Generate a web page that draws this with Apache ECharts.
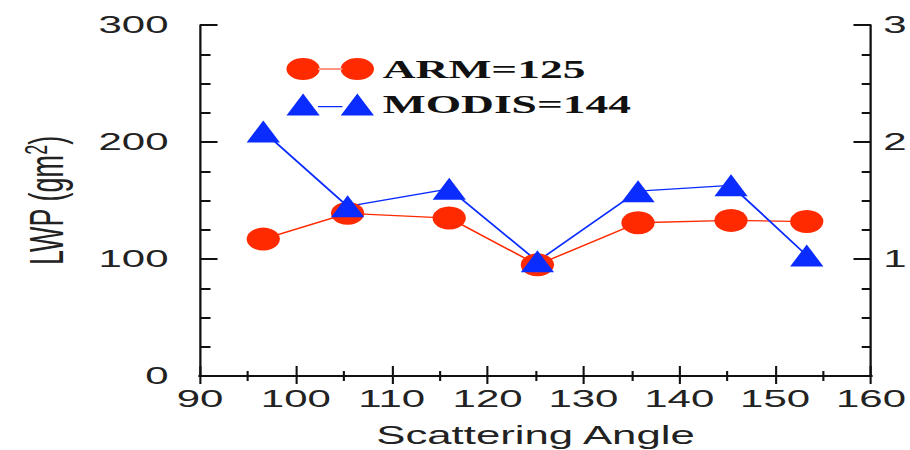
<!DOCTYPE html>
<html>
<head>
<meta charset="utf-8">
<script src="https://cdn.jsdelivr.net/npm/echarts@6/dist/echarts.min.js"></script>
<style>
  html, body { margin: 0; padding: 0; background: #fff; overflow: hidden; }
  /* the figure is laid out narrow and widened horizontally */
  #chart { width: 520px; height: 450px; transform: scaleX(1.75); transform-origin: 0 0; }
</style>
</head>
<body>
<div id="chart"></div>
<script>
// Scattering angle of each sample (degrees)
const angles = [96.6, 105.4, 116.0, 125.2, 135.7, 145.4, 153.3];
// Liquid water path, g m^-2
const armLwp = [117, 139, 135, 95, 131, 133, 132];
const modisLwp = [209, 145, 160, 98, 158, 163, 103];
const seriesNames = ['ARM=125', 'MODIS=144'];
const xTicks = [90, 100, 110, 120, 130, 140, 150, 160];
const yTicks = [0, 100, 200, 300];
const rightTicks = [1, 2, 3];

const RED = '#ff2a00';
const BLUE = '#0a2cff';
const FRAME = '#111';

const pairs = (xs, ys) => xs.map((x, i) => [x, ys[i]]);

// legend icons: two markers joined by a short line
const circleIcon = 'path://M0,11 A9.5,11 0 1,0 19,11 A9.5,11 0 1,0 0,11 Z ' +
  'M31,11 A9.5,11 0 1,0 50,11 A9.5,11 0 1,0 31,11 Z M18,10.4 L32,10.4 L32,11.6 L18,11.6 Z';
const triIcon = 'path://M0,21 L9.5,1 L19,21 Z M31,21 L40.5,1 L50,21 Z M18,12.4 L32,12.4 L32,13.6 L18,13.6 Z';

const labelFont = { fontFamily: 'Liberation Sans', fontSize: 24, color: '#222' };

const chart = echarts.init(document.getElementById('chart'), null, { renderer: 'svg' });
chart.setOption({
  animation: false,
  backgroundColor: '#fff',
  grid: { left: 114.3, right: 22.3, top: 25, bottom: 74, outerBoundsMode: 'none', containLabel: false },
  legend: {
    orient: 'vertical',
    left: 163.7,
    top: 56,
    padding: 0,
    itemWidth: 50,
    itemHeight: 22,
    itemGap: 9.5,
    symbolKeepAspect: false,
    data: [
      { name: seriesNames[0], icon: circleIcon },
      { name: seriesNames[1], icon: triIcon }
    ],
    textStyle: { fontFamily: 'Liberation Serif', fontWeight: 'bold', fontSize: 26, color: '#111', lineHeight: 22 },
    itemStyle: { borderWidth: 0 }
  },
  xAxis: [
    {
      type: 'value', position: 'bottom', min: xTicks[0], max: xTicks[xTicks.length - 1], interval: 10,
      axisLine: { show: true, lineStyle: { color: FRAME, width: 2 } },
      axisTick: { show: true, inside: true, length: 10, lineStyle: { color: FRAME, width: 1.2 } },
      minorTick: { show: true, splitNumber: 2, length: 5, lineStyle: { color: FRAME, width: 1.2 } },
      splitLine: { show: false },
      axisLabel: Object.assign({ margin: 11 }, labelFont),
      name: 'Scattering Angle', nameLocation: 'middle', nameGap: 47,
      nameTextStyle: { fontFamily: 'Liberation Sans', fontSize: 25, color: '#222' }
    },
    {
      type: 'value', position: 'top', min: xTicks[0], max: xTicks[xTicks.length - 1], interval: 10,
      axisLine: { show: true, lineStyle: { color: FRAME, width: 2 } },
      axisTick: { show: true, inside: true, length: 8, lineStyle: { color: FRAME, width: 1.2 } },
      minorTick: { show: true, splitNumber: 2, length: 5, lineStyle: { color: FRAME, width: 1.2 } },
      splitLine: { show: false },
      axisLabel: { show: false }
    }
  ],
  yAxis: [
    {
      type: 'value', position: 'left', min: yTicks[0], max: yTicks[yTicks.length - 1], interval: 100,
      axisLine: { show: true, lineStyle: { color: FRAME, width: 1.3 } },
      axisTick: { show: true, inside: true, length: 10, lineStyle: { color: FRAME, width: 2 } },
      minorTick: { show: true, splitNumber: 4, length: 6, lineStyle: { color: FRAME, width: 2 } },
      splitLine: { show: false },
      axisLabel: Object.assign({ margin: 18 }, labelFont),
      name: '{b|LWP (gm}{s|2}{b|)}', nameLocation: 'middle', nameGap: 72, nameRotate: 90,
      nameTextStyle: {
        rich: {
          b: { fontFamily: 'Liberation Sans', fontSize: 27, color: '#222' },
          s: { fontFamily: 'Liberation Sans', fontSize: 18, color: '#222', padding: [0, 0, 13, 0] }
        }
      }
    },
    {
      type: 'value', position: 'right', min: 0, max: rightTicks[rightTicks.length - 1], interval: 1,
      axisLine: { show: true, lineStyle: { color: FRAME, width: 1.3 } },
      axisTick: { show: true, inside: true, length: 10, lineStyle: { color: FRAME, width: 2 } },
      minorTick: { show: true, splitNumber: 4, length: 5.3, lineStyle: { color: FRAME, width: 2 } },
      splitLine: { show: false },
      axisLabel: Object.assign({ margin: 7, formatter: v => (rightTicks.includes(v) ? String(v) : '') }, labelFont)
    }
  ],
  series: [
    {
      name: seriesNames[0], type: 'line', xAxisIndex: 0, yAxisIndex: 0,
      data: pairs(angles, armLwp),
      symbol: 'circle', symbolSize: [19, 23],
      itemStyle: { color: RED, borderWidth: 0 },
      lineStyle: { color: RED, width: 1.3 }
    },
    {
      name: seriesNames[1], type: 'line', xAxisIndex: 0, yAxisIndex: 0,
      data: pairs(angles, modisLwp),
      symbol: 'triangle', symbolSize: [19, 22],
      itemStyle: { color: BLUE, borderWidth: 0 },
      lineStyle: { color: BLUE, width: 1.3 }
    }
  ]
});
</script>
</body>
</html>
